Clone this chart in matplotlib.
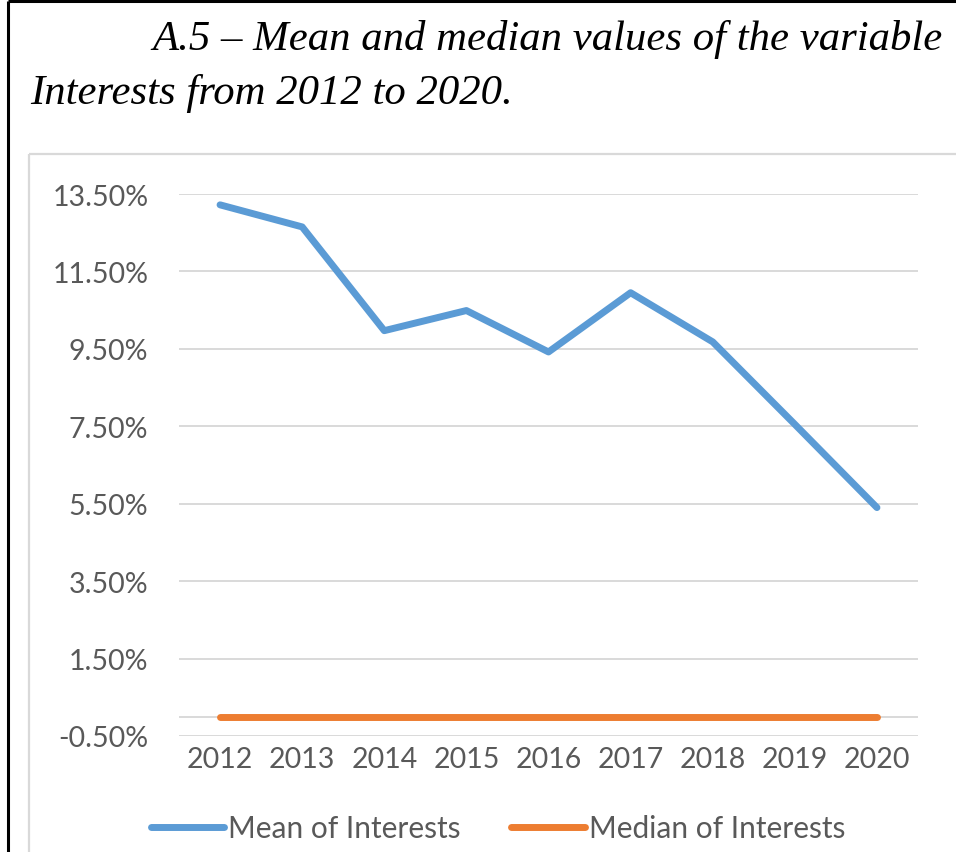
#!/usr/bin/env python3
"""Mean and median of the variable Interests, 2012-2020 (Excel-style line chart)."""
import matplotlib
matplotlib.use("Agg")
import matplotlib.pyplot as plt  # noqa: E402
from matplotlib.lines import Line2D  # noqa: E402
from matplotlib.ticker import FuncFormatter  # noqa: E402

years = ["2012", "2013", "2014", "2015", "2016", "2017", "2018", "2019", "2020"]
mean_interests = [13.22, 12.65, 9.97, 10.49, 9.42, 10.95, 9.68, 7.55, 5.40]
median_interests = [0.0, 0.0, 0.0, 0.0, 0.0, 0.0, 0.0, 0.0, 0.0]
y_ticks = [-0.5, 1.5, 3.5, 5.5, 7.5, 9.5, 11.5, 13.5]

W, H = 956, 853
BLUE = "#5B9BD5"
ORANGE = "#ED7D31"
GRID = "#D9D9D9"
TEXT = "#595959"
FONT = "Lato"


def px(x, y):
    return x / W, 1 - y / H


fig = plt.figure(figsize=(W / 100, H / 100), dpi=100)

# page frame (black) and chart-area frame (light grey)
for (x0, y0), (x1, y1), c, lw in [
    ((8, 2), (W, 2), "black", 2.2),
    ((8, 2), (8, H), "black", 2.2),
    ((29, 155), (W, 155), GRID, 1.6),
    ((29, 155), (29, H), GRID, 1.6),
]:
    a, b = px(x0, y0), px(x1, y1)
    fig.add_artist(Line2D([a[0], b[0]], [a[1], b[1]], transform=fig.transFigure,
                          color=c, lw=lw, solid_capstyle="butt"))

fig.text(*px(152, 50), "A.5 \u2013 Mean and median values of the variable",
         family="Liberation Serif", style="italic", fontsize=30.8, ha="left",
         va="baseline")
fig.text(*px(30, 104), "Interests from 2012 to 2020.",
         family="Liberation Serif", style="italic", fontsize=30.8, ha="left",
         va="baseline")

left, right, top, bottom = 179, 918, 195, 737
ax = fig.add_axes([left / W, 1 - bottom / H, (right - left) / W, (bottom - top) / H])
xs = list(range(len(years)))

for y in y_ticks:
    ax.axhline(y, color=GRID, lw=1.4, zorder=0)
ax.axhline(0, color=GRID, lw=1.4, zorder=0)

ax.plot(xs, mean_interests, color=BLUE, lw=5, solid_capstyle="round",
        solid_joinstyle="round", label="Mean of Interests", zorder=3)
ax.plot(xs, median_interests, color=ORANGE, lw=5, solid_capstyle="round",
        solid_joinstyle="round", label="Median of Interests", zorder=3)

ax.set_xlim(-0.5, len(years) - 0.5)
ax.set_ylim(-0.5, 13.5)
ax.set_xticks(xs)
ax.set_xticklabels(years)
ax.set_yticks(y_ticks)
ax.yaxis.set_major_formatter(FuncFormatter(lambda v, _: f"{v:.2f}%"))
for s in ax.spines.values():
    s.set_visible(False)
ax.tick_params(length=0, colors=TEXT, labelsize=20.5)
ax.tick_params(axis="y", pad=22)
ax.tick_params(axis="x", pad=7)
for lab in ax.get_xticklabels() + ax.get_yticklabels():
    lab.set_family(FONT)
ax.patch.set_alpha(0)

handles, labels = ax.get_legend_handles_labels()
leg = fig.legend(handles, labels, loc="center", bbox_to_anchor=px(498, 829),
                 ncol=2, frameon=False, handlelength=2.45, handletextpad=0.15,
                 columnspacing=1.7, prop={"family": FONT, "size": 21.5})
for t in leg.get_texts():
    t.set_color(TEXT)

fig.savefig("out.png", dpi=100)
